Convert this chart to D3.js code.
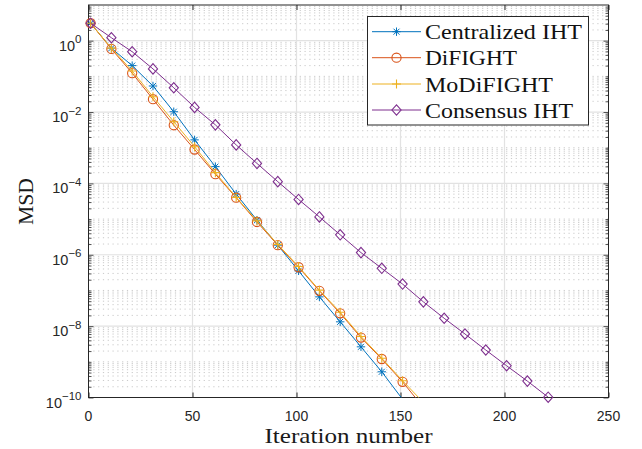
<!DOCTYPE html>
<html><head><meta charset="utf-8">
<script src="https://cdn.jsdelivr.net/npm/d3@7"></script>
<style>body{margin:0;background:#fff}svg{display:block}</style>
</head><body>
<svg id="c" width="642" height="449"></svg>
<script>
// ---- data ----
const iterCentral = [1,11,21,31,41,51,61,71,81,91,101,111,121,131,141,151];
const msdCentral  = [3.09,0.617,0.200,0.0537,0.0102,1.66e-3,2.95e-4,5.01e-5,9.33e-6,1.86e-6,3.55e-7,6.61e-8,1.32e-8,2.63e-9,5.25e-10,8.9e-11];
const iterDifight = [1,11,21,31,41,51,61,71,81,91,101,111,121,131,141,151,161];
const msdDifight  = [3.09,0.589,0.123,0.0229,4.27e-3,8.91e-4,1.82e-4,3.98e-5,8.32e-6,1.86e-6,4.47e-7,9.77e-8,2.29e-8,4.79e-9,1.20e-9,2.75e-10,5.25e-11];
const iterModifight = [1,11,21,31,41,51,61,71,81,91,101,111,121,131,141,151,161];
const msdModifight  = [3.09,0.617,0.141,0.0269,5.37e-3,1.07e-3,2.00e-4,4.07e-5,8.91e-6,1.95e-6,4.68e-7,1.02e-7,2.45e-8,5.13e-9,1.26e-9,2.95e-10,7.24e-11];
const iterConsensus = [1,11,21,31,41,51,61,71,81,91,101,111,121,131,141,151,161,171,181,191,201,211,221];
const msdConsensus  = [3.09,1.21,0.49,0.162,0.0479,0.0135,4.37e-3,1.20e-3,3.63e-4,1.12e-4,3.55e-5,1.15e-5,3.63e-6,1.15e-6,4.17e-7,1.51e-7,4.79e-8,1.66e-8,6.03e-9,2.14e-9,7.76e-10,2.88e-10,1.02e-10];
const seriesNames = ["Centralized IHT","DiFIGHT","MoDiFIGHT","Consensus IHT"];
const xTicks = [0,50,100,150,200,250];
const yTickExps = [0,-2,-4,-6,-8,-10];
const xLabel = "Iteration number";
const yLabel = "MSD";

// ---- setup ----
const svg = d3.select("#c");
const L=88.5, R=608.5, T=5, B=397.5;
const x = d3.scaleLinear().domain([0,250]).range([L,R]);
const y = d3.scaleLog().domain([1e-10,10]).range([B,T]);
const axisCol = "#262626";

const series = [
  {name:seriesNames[0], xs:iterCentral, ys:msdCentral, color:"#0072BD", marker:"star"},
  {name:seriesNames[1], xs:iterDifight, ys:msdDifight, color:"#D95319", marker:"circle"},
  {name:seriesNames[2], xs:iterModifight, ys:msdModifight, color:"#EDB120", marker:"plus"},
  {name:seriesNames[3], xs:iterConsensus, ys:msdConsensus, color:"#7E2F8E", marker:"diamond"}
];

// grid
const g = svg.append("g");
const minorVals = [];
for (let e=-10; e<1; e++) for (let k=1;k<=9;k++){ const v=k*Math.pow(10,e); if (!(k===1 && e%2===0)) minorVals.push(v); }
g.selectAll("line.minor").data(minorVals).enter().append("line")
  .attr("x1",L).attr("x2",R).attr("y1",d=>y(d)).attr("y2",d=>y(d))
  .attr("stroke","#bcbcbc").attr("stroke-width",0.8).attr("stroke-dasharray","1.2,3.6");
const majorY = yTickExps.map(e=>Math.pow(10,e)).filter(v=>v>1e-10);
g.selectAll("line.majy").data(majorY).enter().append("line")
  .attr("x1",L).attr("x2",R).attr("y1",d=>y(d)).attr("y2",d=>y(d))
  .attr("stroke","#e2e2e2").attr("stroke-width",1.2);
g.selectAll("line.majx").data(xTicks.slice(1,-1)).enter().append("line")
  .attr("y1",T).attr("y2",B).attr("x1",d=>x(d)).attr("x2",d=>x(d))
  .attr("stroke","#e2e2e2").attr("stroke-width",1.2);

// axes ticks (inward) via d3 axes
const xb = d3.axisBottom(x).tickValues(xTicks).tickSize(-5).tickFormat("");
const xt = d3.axisTop(x).tickValues(xTicks).tickSize(-5).tickFormat("");
svg.append("g").attr("transform",`translate(0,${B})`).call(xb).call(s=>{s.select(".domain").remove();s.selectAll("line").attr("stroke",axisCol);});
svg.append("g").attr("transform",`translate(0,${T})`).call(xt).call(s=>{s.select(".domain").remove();s.selectAll("line").attr("stroke",axisCol);});
const yl = d3.axisLeft(y).tickValues(majorY.concat([1e-10])).tickSize(-5).tickFormat("");
const yr = d3.axisRight(y).tickValues(majorY.concat([1e-10])).tickSize(-5).tickFormat("");
const yml = d3.axisLeft(y).tickValues(minorVals).tickSize(-3).tickFormat("");
const ymr = d3.axisRight(y).tickValues(minorVals).tickSize(-3).tickFormat("");
[[yl,L],[yml,L],[yr,R],[ymr,R]].forEach(([a,px])=>{
  svg.append("g").attr("transform",`translate(${px},0)`).call(a).call(s=>{s.select(".domain").remove();s.selectAll("line").attr("stroke",axisCol).attr("stroke-width",0.8);});
});
// box
svg.append("rect").attr("x",L).attr("y",T).attr("width",R-L).attr("height",B-T)
  .attr("fill","none").attr("stroke",axisCol).attr("stroke-width",1);

// tick labels
const tf = "'Liberation Sans', Arial, sans-serif";
svg.append("g").selectAll("text").data(xTicks).enter().append("text")
  .attr("x",d=>x(d)).attr("y",B+23).attr("text-anchor","middle")
  .attr("font-family",tf).attr("font-size",14).attr("fill",axisCol).text(d=>d);
const yt = svg.append("g").selectAll("text").data(yTickExps).enter().append("text")
  .attr("x",81.5).attr("y",d=>y(Math.pow(10,d))+10).attr("text-anchor","end")
  .attr("font-family",tf).attr("font-size",14.5).attr("fill",axisCol);
yt.append("tspan").text("10");
yt.append("tspan").attr("dy",-7.5).attr("font-size",11.5).text(d=>String(d).replace("-","\u2212"));

// axis labels
const sf = "'Liberation Serif', 'Times New Roman', serif";
svg.append("text").attr("x",348.5).attr("y",443).attr("text-anchor","middle")
  .attr("font-family",sf).attr("font-size",22).attr("fill","#1a1a1a")
  .attr("textLength",168).attr("lengthAdjust","spacingAndGlyphs").text(xLabel);
svg.append("text").attr("transform","translate(33,201.5) rotate(-90)").attr("text-anchor","middle")
  .attr("font-family",sf).attr("font-size",22).attr("fill","#1a1a1a")
  .attr("textLength",47).attr("lengthAdjust","spacingAndGlyphs").text(yLabel);

// clip
svg.append("clipPath").attr("id","clip").append("rect").attr("x",L).attr("y",T).attr("width",R-L).attr("height",B-T);

function drawMarker(sel, type, color, cx, cy){
  if(type==="star"){
    const s=4.2, d=3.0;
    const p=`M${cx-s},${cy}L${cx+s},${cy}M${cx},${cy-s}L${cx},${cy+s}M${cx-d},${cy-d}L${cx+d},${cy+d}M${cx-d},${cy+d}L${cx+d},${cy-d}`;
    sel.append("path").attr("d",p).attr("stroke",color).attr("stroke-width",1).attr("fill","none");
  } else if(type==="circle"){
    sel.append("circle").attr("cx",cx).attr("cy",cy).attr("r",4.6).attr("stroke",color).attr("stroke-width",1.1).attr("fill","none");
  } else if(type==="plus"){
    const s=4.5;
    sel.append("path").attr("d",`M${cx-s},${cy}L${cx+s},${cy}M${cx},${cy-s}L${cx},${cy+s}`).attr("stroke",color).attr("stroke-width",1.1).attr("fill","none");
  } else if(type==="diamond"){
    const w=4.6,h=5.2;
    sel.append("path").attr("d",`M${cx},${cy-h}L${cx+w},${cy}L${cx},${cy+h}L${cx-w},${cy}Z`).attr("stroke",color).attr("stroke-width",1.1).attr("fill","none");
  }
}

const line = d3.line().x(d=>x(d[0])).y(d=>y(d[1]));
series.forEach(s=>{
  const pts = s.xs.map((v,i)=>[v,s.ys[i]]);
  svg.append("path").attr("d",line(pts)).attr("clip-path","url(#clip)")
    .attr("fill","none").attr("stroke",s.color).attr("stroke-width",1);
  const mg = svg.append("g");
  pts.filter(p=>p[1]>=1e-10 && p[1]<=10).forEach(p=>drawMarker(mg,s.marker,s.color,x(p[0]),y(p[1])));
});

// legend
const lg = svg.append("g");
lg.append("rect").attr("x",367.5).attr("y",16.5).attr("width",221).attr("height",108.5)
  .attr("fill","#fff").attr("stroke",axisCol).attr("stroke-width",1);
const rowY = [31.7,57.7,84,110];
const textLens = [157,92,128,148];
series.forEach((s,i)=>{
  lg.append("line").attr("x1",372).attr("x2",421).attr("y1",rowY[i]).attr("y2",rowY[i]).attr("stroke",s.color).attr("stroke-width",1);
  drawMarker(lg,s.marker,s.color,396.5,rowY[i]);
  lg.append("text").attr("x",425).attr("y",rowY[i]+7.5).attr("font-family",sf).attr("font-size",22)
    .attr("fill","#111").attr("textLength",textLens[i]).attr("lengthAdjust","spacingAndGlyphs").text(s.name);
});
</script>
</body></html>
